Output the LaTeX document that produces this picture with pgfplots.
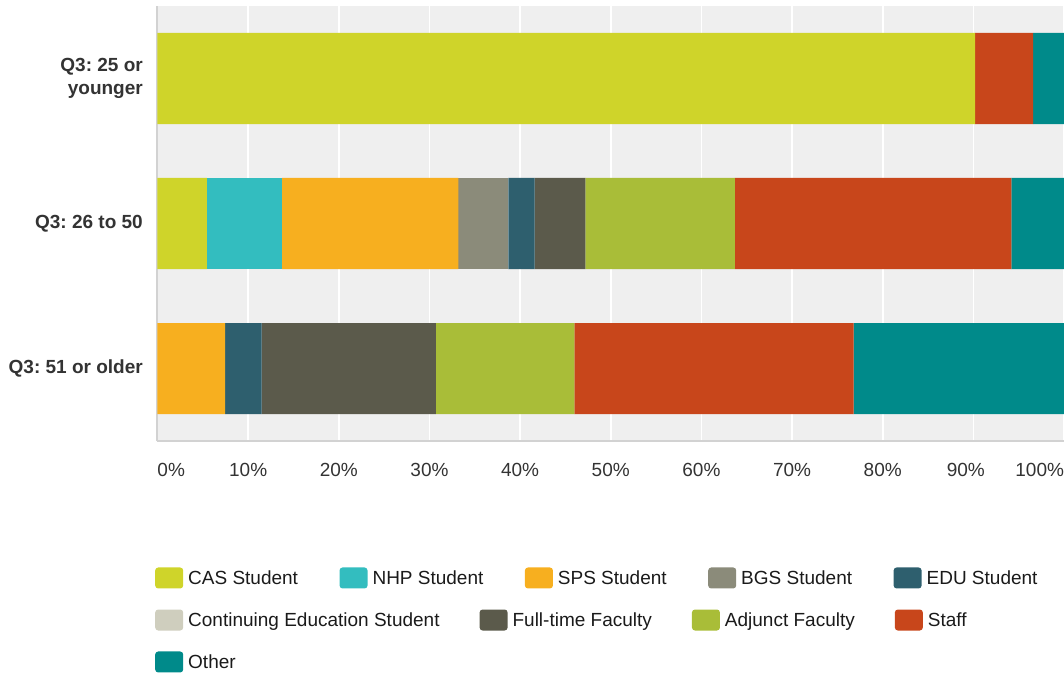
\documentclass[border=0pt]{standalone}
\usepackage{fontspec}
\setmainfont{Liberation Sans}
\usepackage{pgfplots}
\pgfplotsset{compat=1.18}
\frenchspacing

\definecolor{cas}{HTML}{CFD42A}
\definecolor{nhp}{HTML}{33BDBF}
\definecolor{sps}{HTML}{F7AF1F}
\definecolor{bgs}{HTML}{8B8B7A}
\definecolor{edu}{HTML}{2E5F6E}
\definecolor{cont}{HTML}{CFCEBE}
\definecolor{ftf}{HTML}{5B5A4B}
\definecolor{adj}{HTML}{A9BD38}
\definecolor{staff}{HTML}{C8461B}
\definecolor{other}{HTML}{008A8A}
\definecolor{bg}{HTML}{EFEFEF}
\definecolor{axisgray}{HTML}{D2D2D2}
\definecolor{lblgray}{HTML}{333333}
\definecolor{lgdtext}{HTML}{1A1A1A}

\newcommand{\fs}{\fontsize{19bp}{23bp}\selectfont}

\pgfplotsset{
  swatch/.style={
    legend image code/.code={\fill[draw=none, rounded corners=3bp] (0bp,-10.5bp) rectangle (28bp,10.5bp);}},
  lgd/.style 2 args={
    legend columns=-1,
    legend style={anchor=west, draw=none, fill=none, inner sep=0pt,
      font=\fs, text=lgdtext,
      nodes={inner sep=0pt},
      /tikz/every odd column/.append style={column sep=5bp},
      /tikz/every even column/.append style={column sep=#2},
      at={(axis description cs:-0.00276,#1)}}},
}

\begin{document}
\begin{tikzpicture}
\path[use as bounding box] (-157.5bp,-232bp) rectangle (906.5bp,441bp);
\begin{axis}[
  at={(0,0)}, anchor=south west, scale only axis,
  width=906.5bp, height=435bp,
  xbar stacked, bar width=91bp,
  xmin=0, xmax=100, ymin=-0.5, ymax=2.5,
  axis background/.style={fill=bg},
  axis x line=bottom, axis y line=left,
  axis line style={-, draw=axisgray, line width=2bp},
  xtick={0,10,...,100},
  xticklabels={\makebox[0pt][l]{0\%},10\%,20\%,30\%,40\%,50\%,60\%,70\%,80\%,
    \makebox[0pt]{\hspace*{-15bp}90\%},\makebox[0pt][r]{100\%}},
  ytick={0,1,2},
  yticklabels={Q3: 51 or older, Q3: 26 to 50, {Q3: 25 or\\younger}},
  major tick length=0pt,
  xmajorgrids, grid style={white, line width=1.7bp},
  xticklabel style={font=\fs, text=lblgray, anchor=north, inner sep=0pt, yshift=-22bp},
  yticklabel style={font=\fs\bfseries, text=lblgray, align=right, anchor=east,
    inner sep=0pt, xshift=-14.5bp},
  every axis plot/.append style={draw=none},
  swatch, lgd={-0.3149}{41.5bp},
]
% rows: y=2 -> 25 or younger, y=1 -> 26 to 50, y=0 -> 51 or older
\addplot[fill=cas]   coordinates {(0,0) (5.46,1) (90.2,2)};
\addplot[fill=nhp]   coordinates {(0,0) (8.28,1) (0,2)};
\addplot[fill=sps]   coordinates {(7.45,0) (19.46,1) (0,2)};
\addplot[fill=bgs]   coordinates {(0,0) (5.5,1) (0,2)};
\addplot[fill=edu]   coordinates {(4.05,0) (2.9,1) (0,2)};
\addplot[fill=cont]  coordinates {(0,0) (0,1) (0,2)};
\addplot[fill=ftf]   coordinates {(19.2,0) (5.6,1) (0,2)};
\addplot[fill=adj]   coordinates {(15.3,0) (16.5,1) (0,2)};
\addplot[fill=staff] coordinates {(30.8,0) (30.5,1) (6.4,2)};
\addplot[fill=other] coordinates {(23.2,0) (5.8,1) (3.4,2)};
\addlegendentry{CAS Student}
\addlegendentry{NHP Student}
\addlegendentry{SPS Student}
\addlegendentry{BGS Student}
\addlegendentry{EDU Student}
\end{axis}

\begin{axis}[
  at={(0,0)}, anchor=south west, scale only axis,
  width=906.5bp, height=435bp, hide axis,
  xmin=0, xmax=1, ymin=0, ymax=1,
  swatch, lgd={-0.4115}{40bp},
]
\addlegendimage{fill=cont, draw=none}
\addlegendentry{Continuing Education Student}
\addlegendimage{fill=ftf, draw=none}
\addlegendentry{Full-time Faculty}
\addlegendimage{fill=adj, draw=none}
\addlegendentry{Adjunct Faculty}
\addlegendimage{fill=staff, draw=none}
\addlegendentry{Staff}
\end{axis}

\begin{axis}[
  at={(0,0)}, anchor=south west, scale only axis,
  width=906.5bp, height=435bp, hide axis,
  xmin=0, xmax=1, ymin=0, ymax=1,
  swatch, lgd={-0.508}{40bp},
]
\addlegendimage{fill=other, draw=none}
\addlegendentry{Other}
\end{axis}
\end{tikzpicture}
\end{document}
